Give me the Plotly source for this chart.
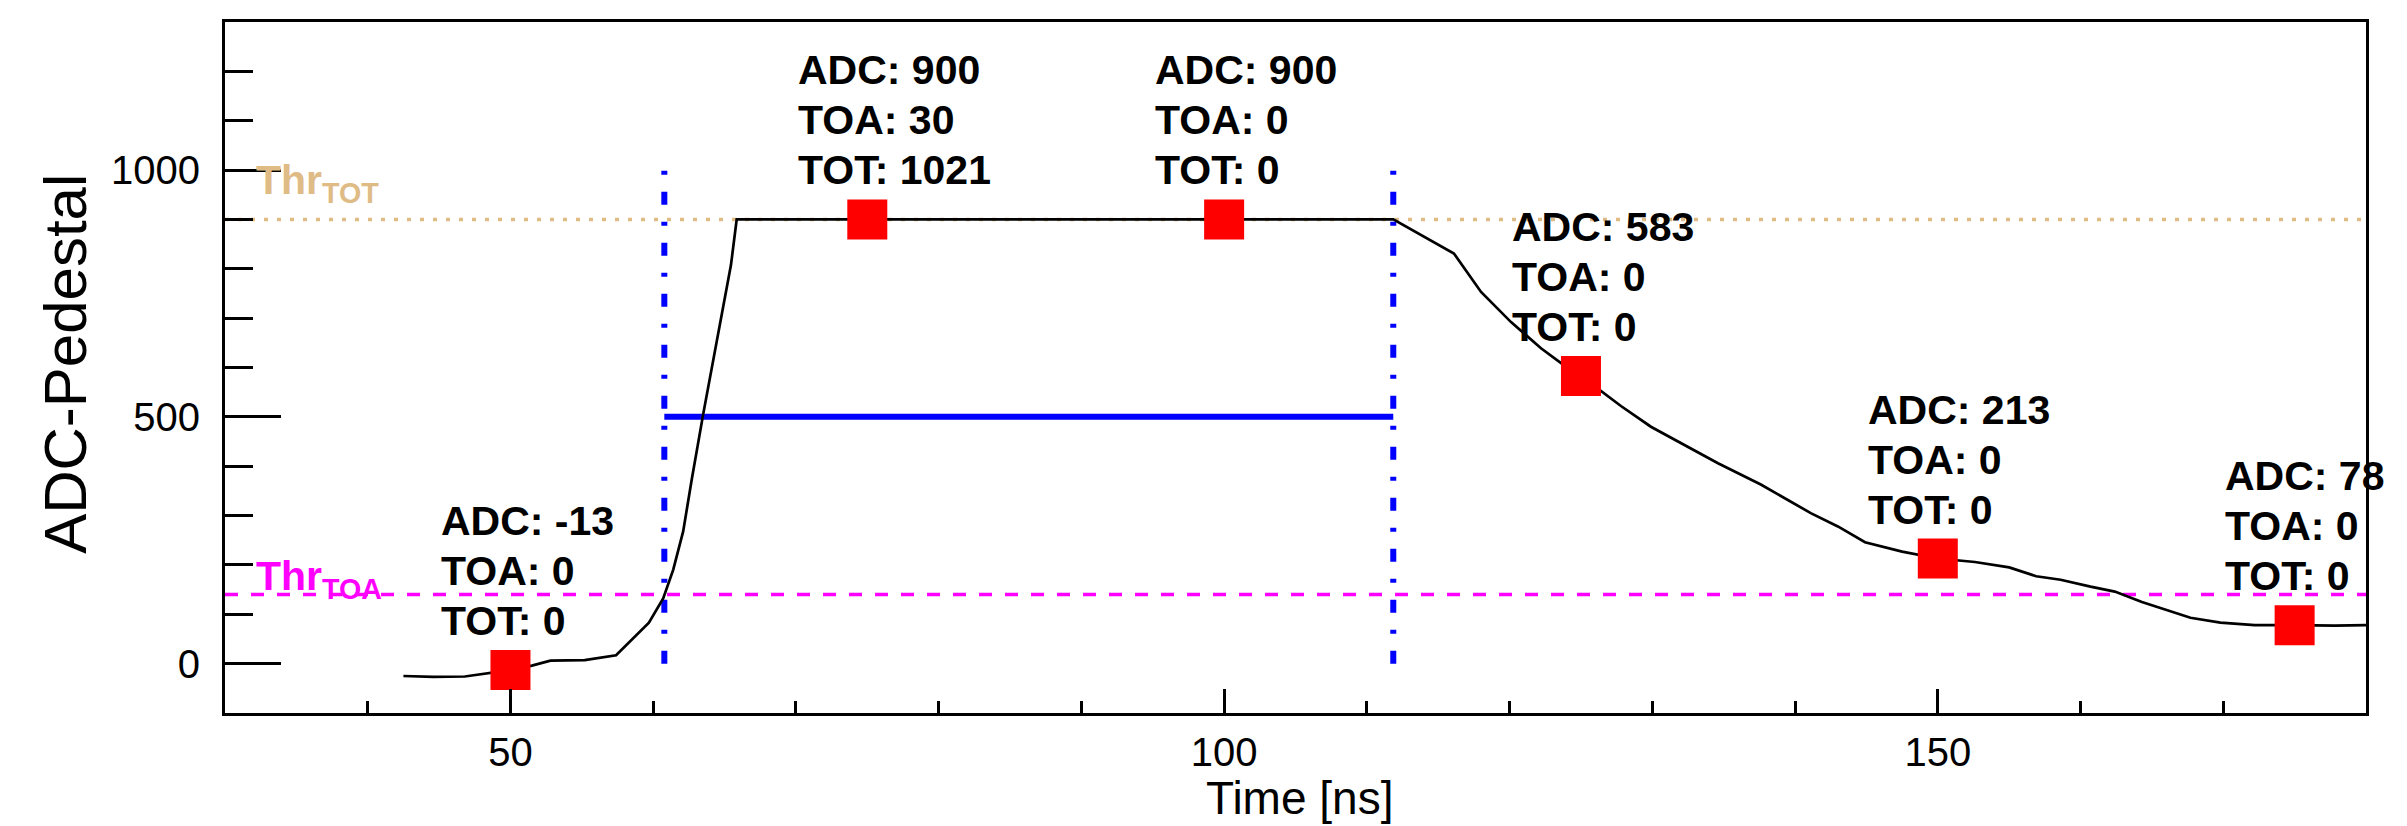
import plotly.graph_objects as go

# ---------------- data ----------------
pulse_time = [42.5, 44.6, 46.8, 48.6, 50.0, 51.5, 52.8, 55.2, 57.4, 59.7, 60.7, 61.4, 62.1,
              62.7, 63.5, 65.45, 65.85, 111.85, 116.1, 118.0, 120.1, 122.2, 123.7, 125.0,
              126.3, 127.8, 129.9, 132.9, 134.6, 137.6, 141.1, 143.0, 144.9, 147.5, 150.0,
              152.6, 155.0, 156.9, 158.6, 160.7, 162.4, 164.3, 165.9, 167.7, 169.8, 172.2,
              175.0, 177.8, 180.0]
pulse_adc = [-25, -27, -26, -18, -13, -4, 6, 7, 17, 83, 132, 190, 268,
             373, 505, 808, 900, 900, 831, 753, 692, 639, 607, 583,
             554, 522, 480, 432, 406, 363, 305, 278, 246, 227, 213,
             206, 195, 177, 170, 156, 146, 125, 110, 93, 83, 78,
             78, 77, 78]

sample_time = [50, 75, 100, 125, 150, 175]
sample_adc = [-13, 900, 900, 583, 213, 78]
sample_toa = [0, 30, 0, 0, 0, 0]
sample_tot = [0, 1021, 0, 0, 0, 0]

thr_toa = 140
thr_tot = 900
toa_cross = 60.78
tot_cross = 111.85
tot_level = 500
window_top = 1000

x_range = [30, 180]
y_range = [-100, 1300]

FONT = "Liberation Sans, Arial, Helvetica, sans-serif"
TAN = "#DFBB86"
MAGENTA = "#FF00FF"
BLUE = "#0000FF"

fig = go.Figure()

# threshold lines
fig.add_trace(go.Scatter(x=x_range, y=[thr_tot, thr_tot], mode="lines",
                         line=dict(color=TAN, width=3.5, dash="4px,9px"),
                         hoverinfo="skip", showlegend=False))
fig.add_trace(go.Scatter(x=x_range, y=[thr_toa, thr_toa], mode="lines",
                         line=dict(color=MAGENTA, width=3.5, dash="13px,13px"),
                         hoverinfo="skip", showlegend=False))

# TOA / TOT window
for xc in (toa_cross, tot_cross):
    fig.add_trace(go.Scatter(x=[xc, xc], y=[0, window_top], mode="lines",
                             line=dict(color=BLUE, width=6, dash="13px,17px,4px,17px"),
                             hoverinfo="skip", showlegend=False))
fig.add_trace(go.Scatter(x=[toa_cross, tot_cross], y=[tot_level, tot_level], mode="lines",
                         line=dict(color=BLUE, width=6),
                         hoverinfo="skip", showlegend=False))

# pulse
fig.add_trace(go.Scatter(x=pulse_time, y=pulse_adc, mode="lines",
                         line=dict(color="black", width=2.7),
                         showlegend=False))

# samples
fig.add_trace(go.Scatter(x=sample_time, y=sample_adc, mode="markers",
                         marker=dict(symbol="square", size=40, color="#FF0000",
                                     line=dict(width=0)),
                         showlegend=False))

annotations = []
LINE_STEP = 50
BASE_SHIFT = 24
for t, a, toa, tot in zip(sample_time, sample_adc, sample_toa, sample_tot):
    lines = [f"ADC: {a}", f"TOA: {toa}", f"TOT: {tot}"]
    for i, txt in enumerate(lines):
        annotations.append(dict(
            x=t - 5, y=a, xref="x", yref="y",
            text=f"<b>{txt}</b>",
            showarrow=False, xanchor="left", yanchor="bottom", align="left",
            yshift=BASE_SHIFT + (len(lines) - 1 - i) * LINE_STEP,
            font=dict(family=FONT, size=41, color="black")))

annotations.append(dict(x=32, y=thr_tot, xref="x", yref="y",
                        text="<b>Thr<sub>TOT</sub></b>", showarrow=False,
                        xanchor="left", yanchor="bottom", yshift=8,
                        font=dict(family=FONT, size=41, color=TAN)))
annotations.append(dict(x=32, y=thr_toa, xref="x", yref="y",
                        text="<b>Thr<sub>TOA</sub></b>", showarrow=False,
                        xanchor="left", yanchor="bottom", yshift=-12,
                        font=dict(family=FONT, size=41, color=MAGENTA)))

annotations.append(dict(x=-0.0745, y=0.506, xref="paper", yref="paper",
                        text="ADC-Pedestal", textangle=-90, showarrow=False,
                        xanchor="center", yanchor="middle",
                        font=dict(family=FONT, size=60, color="black")))
annotations.append(dict(x=0.502, y=-0.1225, xref="paper", yref="paper",
                        text="Time [ns]", showarrow=False,
                        xanchor="center", yanchor="middle",
                        font=dict(family=FONT, size=46, color="black")))

fig.update_layout(
    width=2399, height=818,
    margin=dict(l=217, r=41, t=14, b=113),
    paper_bgcolor="white", plot_bgcolor="white",
    font=dict(family=FONT, size=40, color="black"),
    annotations=annotations,
    xaxis=dict(range=x_range, tickmode="array", tickvals=[50, 100, 150],
               ticks="inside", ticklen=24, tickwidth=3, tickcolor="black",
               showline=True, mirror=True, linewidth=3, linecolor="black",
               showgrid=False, zeroline=False, ticklabelstandoff=2,
               tickfont=dict(family=FONT, size=40),
               minor=dict(dtick=10, tick0=0, ticks="inside", ticklen=12,
                          tickwidth=3, tickcolor="black", showgrid=False)),
    yaxis=dict(range=y_range, tickmode="array", tickvals=[0, 500, 1000],
               ticks="inside", ticklen=56, tickwidth=3, tickcolor="black",
               showline=True, mirror=True, linewidth=3, linecolor="black",
               showgrid=False, zeroline=False, ticklabelstandoff=14,
               tickfont=dict(family=FONT, size=40),
               minor=dict(dtick=100, tick0=0, ticks="inside", ticklen=28,
                          tickwidth=3, tickcolor="black", showgrid=False)),
)

fig.write_html("out.html")
